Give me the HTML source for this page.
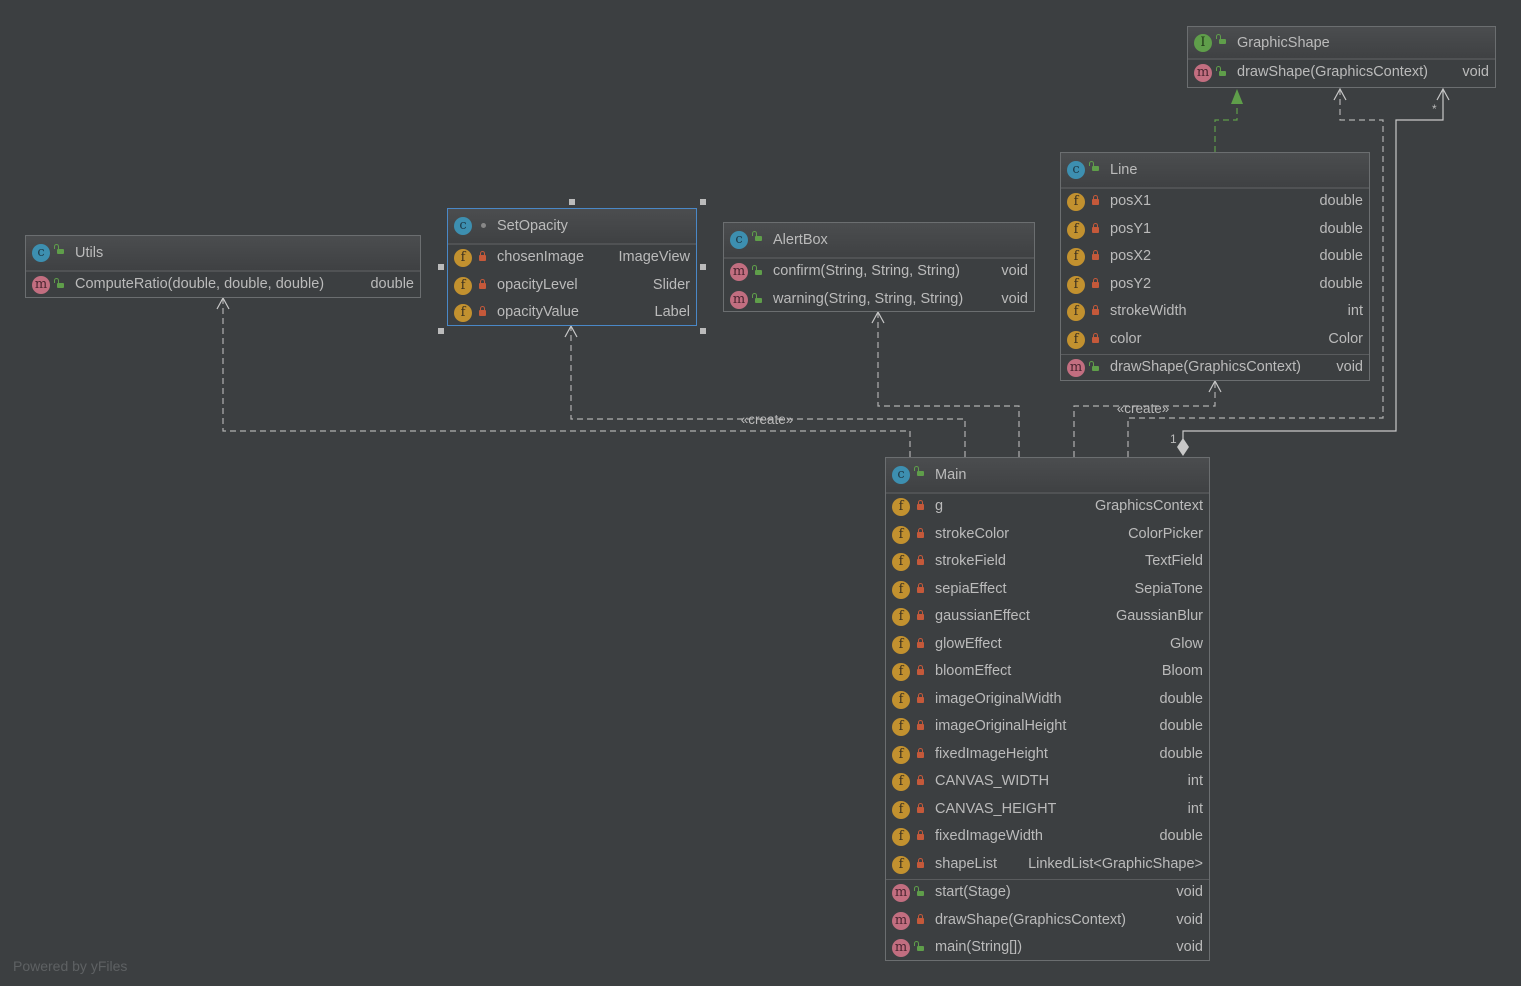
<!DOCTYPE html>
<html><head><meta charset="utf-8"><style>
body{margin:0;width:1521px;height:986px;background:#3c3f41;font-family:"Liberation Sans",sans-serif;font-size:14.5px;color:#bbbbbb;position:relative;overflow:hidden}
.box{position:absolute;border:1px solid #6b6e70;background:#3c3f41;box-sizing:border-box}
.hd{height:34px;background:linear-gradient(#4b4d4f,#3f4143);border-bottom:2px solid #505254;position:relative}
.hd .t{position:absolute;left:49px;top:9px;color:#bbbbbb}
.r{height:27.5px;position:relative}
.r .n{position:absolute;left:49px;top:4px}
.r .ty{position:absolute;right:6px;top:4px}
.sep{border-top:1px solid #5a5c5e}
.ic{position:absolute;left:6px;top:4px;width:18px;height:18px;border-radius:50%;font-size:13px;line-height:18px;text-align:center;color:#3a3020;font-family:"DejaVu Serif",serif}
.hd .ic{top:8px}
.f{background:#c2912f}
.c{background:#3d8fb0;color:#1e3a48}
.m{background:#c26e80;color:#4a2530}
.i{background:#5f9e4a;color:#203818}
.lk{position:absolute;left:31px;top:10px;width:7px;height:6px;background:#c5593a;border-radius:1px}
.lk:before{content:"";position:absolute;left:1px;top:-4px;width:3px;height:4px;border:1px solid #c5593a;border-bottom:none;border-radius:3px 3px 0 0}
.op{position:absolute;left:31px;top:11px;width:7px;height:5px;background:#5f9e4a;border-radius:1px}
.op:before{content:"";position:absolute;left:-3px;top:-5px;width:3px;height:4px;border:1px solid #5f9e4a;border-bottom:none;border-radius:3px 3px 0 0}
.hd .op{top:13px}
.dot{position:absolute;left:33px;top:14px;width:5px;height:5px;border-radius:50%;background:#888}
.h{position:absolute;width:6px;height:6px;background:#bbb}
svg{position:absolute;left:0;top:0}
</style></head><body>
<svg width="1521" height="986" fill="none">
<g stroke="#b0b0b0" stroke-width="1.2" stroke-dasharray="6,4">
<path d="M910 457V431H223V299"/>
<path d="M965 457V419H571V327"/>
<path d="M1019 457V406H878V313"/>
<path d="M1074 457V406H1215V382"/>
<path d="M1128 457V418H1383V120H1340V90"/>
</g>
<path d="M1215 152V120H1237V104" stroke="#5f9e4a" stroke-width="1.2" stroke-dasharray="6,4"/>
<polygon points="1237,89 1231,104 1243,104" fill="#5f9e4a"/>
<path d="M1183 440V431H1396V120H1443V90" stroke="#c8c8c8" stroke-width="1.2"/>
<polygon points="1183,438 1189,447 1183,456 1177,447" fill="#c8c8c8"/>
<g stroke="#c8c8c8" stroke-width="1.2">
<path d="M217 309L223 298L229 309"/><path d="M565 337L571 326L577 337"/><path d="M872 323L878 312L884 323"/><path d="M1209 392L1215 381L1221 392"/><path d="M1334 100L1340 89L1346 100"/><path d="M1437 100L1443 89L1449 100"/>
</g>
<text x="767" y="424" fill="#bbb" font-size="13.5" font-family="Liberation Sans" text-anchor="middle">«create»</text>
<text x="1143" y="413" fill="#bbb" font-size="13.5" font-family="Liberation Sans" text-anchor="middle">«create»</text>
<text x="1170" y="443" fill="#bbb" font-size="12" font-family="Liberation Sans">1</text>
<text x="1432" y="113" fill="#bbb" font-size="12" font-family="Liberation Sans">*</text>
</svg>

<div class="box" style="left:1187px;top:26px;width:309px;height:62px">
<div class="hd" style="height:31px"><span class="ic i" style="top:7px">I</span><span class="op" style="top:12px"></span><span class="t" style="top:8px">GraphicShape</span></div>
<div class="r"><span class="ic m">m</span><span class="op"></span><span class="n">drawShape(GraphicsContext)</span><span class="ty">void</span></div>
</div>

<div class="box" style="left:1060px;top:152px;width:310px;height:229px">
<div class="hd"><span class="ic c">c</span><span class="op"></span><span class="t">Line</span></div>
<div class="r"><span class="ic f">f</span><span class="lk"></span><span class="n">posX1</span><span class="ty">double</span></div>
<div class="r"><span class="ic f">f</span><span class="lk"></span><span class="n">posY1</span><span class="ty">double</span></div>
<div class="r"><span class="ic f">f</span><span class="lk"></span><span class="n">posX2</span><span class="ty">double</span></div>
<div class="r"><span class="ic f">f</span><span class="lk"></span><span class="n">posY2</span><span class="ty">double</span></div>
<div class="r"><span class="ic f">f</span><span class="lk"></span><span class="n">strokeWidth</span><span class="ty">int</span></div>
<div class="r"><span class="ic f">f</span><span class="lk"></span><span class="n">color</span><span class="ty">Color</span></div>
<div class="r sep"><span class="ic m">m</span><span class="op"></span><span class="n">drawShape(GraphicsContext)</span><span class="ty">void</span></div>
</div>

<div class="box" style="left:25px;top:235px;width:396px;height:63px">
<div class="hd"><span class="ic c">c</span><span class="op"></span><span class="t">Utils</span></div>
<div class="r"><span class="ic m">m</span><span class="op"></span><span class="n">ComputeRatio(double, double, double)</span><span class="ty">double</span></div>
</div>

<div class="box" style="left:447px;top:208px;width:250px;height:118px;border-color:#4a88c7">
<div class="hd"><span class="ic c">c</span><span class="dot"></span><span class="t">SetOpacity</span></div>
<div class="r"><span class="ic f">f</span><span class="lk"></span><span class="n">chosenImage</span><span class="ty">ImageView</span></div>
<div class="r"><span class="ic f">f</span><span class="lk"></span><span class="n">opacityLevel</span><span class="ty">Slider</span></div>
<div class="r"><span class="ic f">f</span><span class="lk"></span><span class="n">opacityValue</span><span class="ty">Label</span></div>
</div>
<div class="h" style="left:438px;top:328px"></div><div class="h" style="left:569px;top:199px"></div><div class="h" style="left:700px;top:199px"></div>
<div class="h" style="left:438px;top:264px"></div><div class="h" style="left:700px;top:264px"></div><div class="h" style="left:700px;top:328px"></div>

<div class="box" style="left:723px;top:222px;width:312px;height:90px">
<div class="hd"><span class="ic c">c</span><span class="op"></span><span class="t">AlertBox</span></div>
<div class="r"><span class="ic m">m</span><span class="op"></span><span class="n">confirm(String, String, String)</span><span class="ty">void</span></div>
<div class="r"><span class="ic m">m</span><span class="op"></span><span class="n">warning(String, String, String)</span><span class="ty">void</span></div>
</div>

<div class="box" style="left:885px;top:457px;width:325px;height:504px">
<div class="hd"><span class="ic c">c</span><span class="op"></span><span class="t">Main</span></div>
<div class="r"><span class="ic f">f</span><span class="lk"></span><span class="n">g</span><span class="ty">GraphicsContext</span></div>
<div class="r"><span class="ic f">f</span><span class="lk"></span><span class="n">strokeColor</span><span class="ty">ColorPicker</span></div>
<div class="r"><span class="ic f">f</span><span class="lk"></span><span class="n">strokeField</span><span class="ty">TextField</span></div>
<div class="r"><span class="ic f">f</span><span class="lk"></span><span class="n">sepiaEffect</span><span class="ty">SepiaTone</span></div>
<div class="r"><span class="ic f">f</span><span class="lk"></span><span class="n">gaussianEffect</span><span class="ty">GaussianBlur</span></div>
<div class="r"><span class="ic f">f</span><span class="lk"></span><span class="n">glowEffect</span><span class="ty">Glow</span></div>
<div class="r"><span class="ic f">f</span><span class="lk"></span><span class="n">bloomEffect</span><span class="ty">Bloom</span></div>
<div class="r"><span class="ic f">f</span><span class="lk"></span><span class="n">imageOriginalWidth</span><span class="ty">double</span></div>
<div class="r"><span class="ic f">f</span><span class="lk"></span><span class="n">imageOriginalHeight</span><span class="ty">double</span></div>
<div class="r"><span class="ic f">f</span><span class="lk"></span><span class="n">fixedImageHeight</span><span class="ty">double</span></div>
<div class="r"><span class="ic f">f</span><span class="lk"></span><span class="n">CANVAS_WIDTH</span><span class="ty">int</span></div>
<div class="r"><span class="ic f">f</span><span class="lk"></span><span class="n">CANVAS_HEIGHT</span><span class="ty">int</span></div>
<div class="r"><span class="ic f">f</span><span class="lk"></span><span class="n">fixedImageWidth</span><span class="ty">double</span></div>
<div class="r"><span class="ic f">f</span><span class="lk"></span><span class="n">shapeList</span><span class="ty">LinkedList&lt;GraphicShape&gt;</span></div>
<div class="r sep"><span class="ic m">m</span><span class="op"></span><span class="n">start(Stage)</span><span class="ty">void</span></div>
<div class="r"><span class="ic m">m</span><span class="lk"></span><span class="n">drawShape(GraphicsContext)</span><span class="ty">void</span></div>
<div class="r"><span class="ic m">m</span><span class="op"></span><span class="n">main(String[])</span><span class="ty">void</span></div>
</div>

<div style="position:absolute;left:13px;top:958px;color:#5e6163;font-size:14px">Powered by yFiles</div>
</body></html>
